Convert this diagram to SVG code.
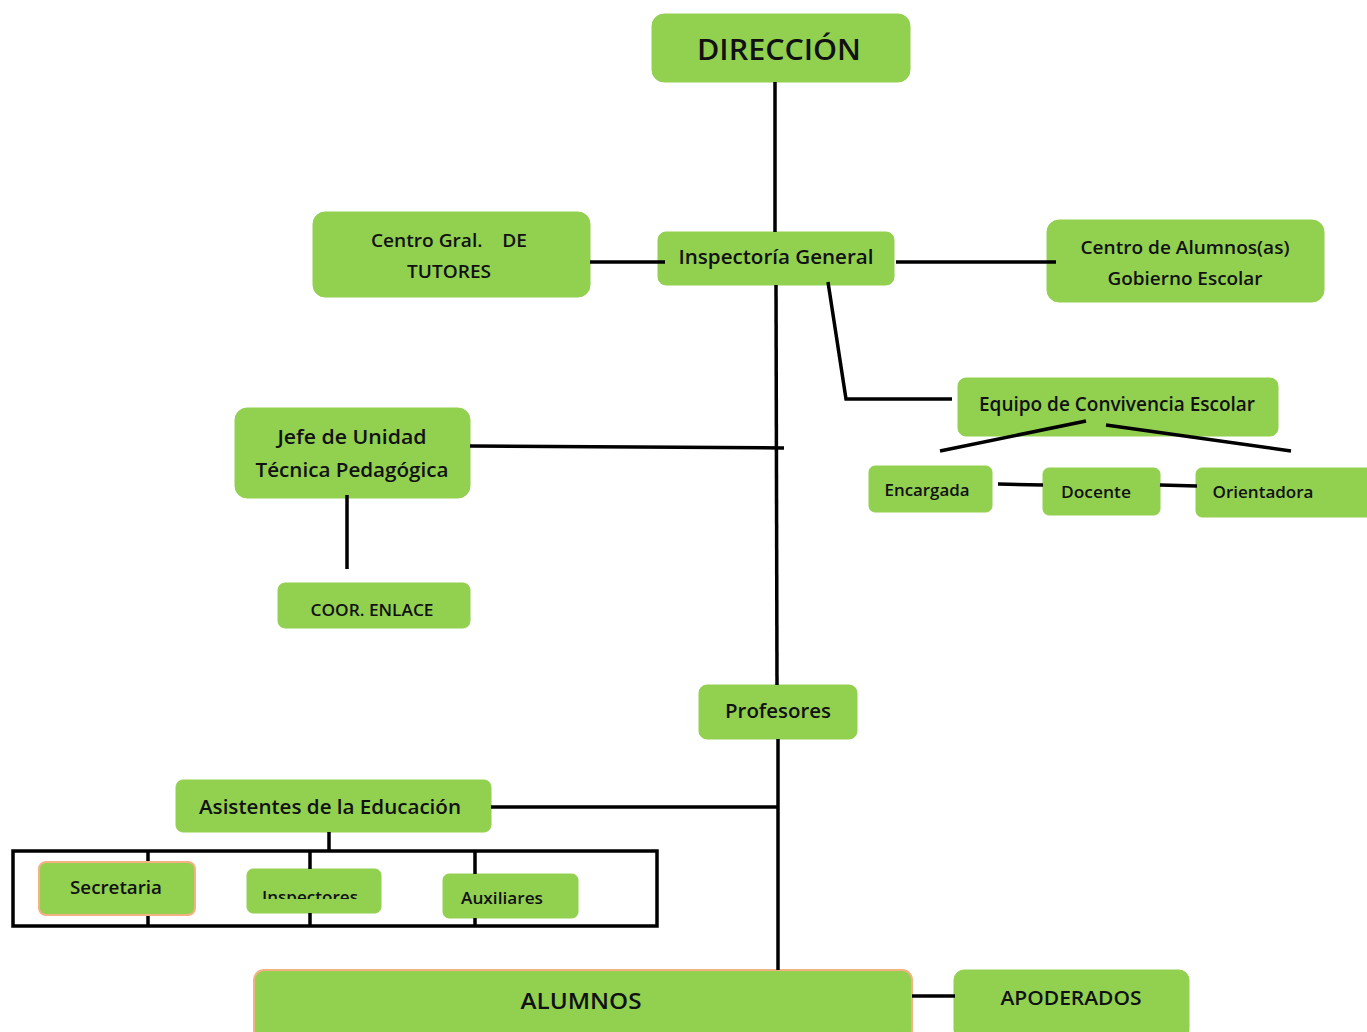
<svg xmlns="http://www.w3.org/2000/svg" width="1367" height="1032" viewBox="0 0 1367 1032">
<style>
.n{fill:#92D050;stroke:#92D050;stroke-width:1}
.s{fill:#92D050;stroke:#F4B183;stroke-width:2}
.t{font-family:"Open Sans","Liberation Sans",sans-serif;font-weight:600;fill:#111;text-anchor:middle}
.c{stroke:#000;stroke-width:3.5;fill:none}
</style>
<defs>
<clipPath id="clipInsp"><rect x="240" y="860" width="150" height="39"/></clipPath>
</defs>
<rect width="1367" height="1032" fill="#fff"/>
<g id="direccion">
<rect class="n" x="652" y="14" width="258" height="68" rx="12"/>
<text class="t" x="779" y="60" font-size="28" font-weight="700" textLength="164" lengthAdjust="spacingAndGlyphs">DIRECCIÓN</text>
</g>
<g id="inspectoria">
<rect class="n" x="658" y="232" width="236" height="53" rx="8"/>
<text class="t" x="776" y="264" font-size="20" textLength="195" lengthAdjust="spacingAndGlyphs">Inspectoría General</text>
</g>
<g id="centro-tutores">
<rect class="n" x="313" y="212" width="277" height="85" rx="12"/>
<text class="t" x="449" y="247" font-size="18" textLength="156" lengthAdjust="spacingAndGlyphs" xml:space="preserve">Centro Gral.    DE</text>
<text class="t" x="449" y="278" font-size="18" textLength="84" lengthAdjust="spacingAndGlyphs">TUTORES</text>
</g>
<g id="centro-alumnos">
<rect class="n" x="1047" y="220" width="277" height="82" rx="12"/>
<text class="t" x="1185" y="254" font-size="18" textLength="209" lengthAdjust="spacingAndGlyphs">Centro de Alumnos(as)</text>
<text class="t" x="1185" y="285" font-size="18" textLength="155" lengthAdjust="spacingAndGlyphs">Gobierno Escolar</text>
</g>
<g id="equipo">
<rect class="n" x="958" y="378" width="320" height="58" rx="8"/>
<text class="t" x="1117" y="411" font-size="19" textLength="276" lengthAdjust="spacingAndGlyphs">Equipo de Convivencia Escolar</text>
</g>
<g id="encargada">
<rect class="n" x="869" y="466" width="123" height="46" rx="6"/>
<text class="t" x="927" y="496" font-size="16" textLength="85" lengthAdjust="spacingAndGlyphs">Encargada</text>
</g>
<g id="docente">
<rect class="n" x="1043" y="468" width="117" height="47" rx="6"/>
<text class="t" x="1096" y="498" font-size="16" textLength="70" lengthAdjust="spacingAndGlyphs">Docente</text>
</g>
<g id="orientadora">
<rect class="n" x="1196" y="468" width="180" height="49" rx="6"/>
<text class="t" x="1263" y="498" font-size="16" textLength="101" lengthAdjust="spacingAndGlyphs">Orientadora</text>
</g>
<g id="jefe-utp">
<rect class="n" x="235" y="408" width="235" height="90" rx="12"/>
<text class="t" x="352" y="444" font-size="20" textLength="149" lengthAdjust="spacingAndGlyphs">Jefe de Unidad</text>
<text class="t" x="352" y="477" font-size="20" textLength="193" lengthAdjust="spacingAndGlyphs">Técnica Pedagógica</text>
</g>
<g id="coor-enlace">
<rect class="n" x="278" y="583" width="192" height="45" rx="7"/>
<text class="t" x="372" y="616" font-size="16" textLength="123" lengthAdjust="spacingAndGlyphs">COOR. ENLACE</text>
</g>
<g id="profesores">
<rect class="n" x="699" y="685" width="158" height="54" rx="8"/>
<text class="t" x="778" y="718" font-size="20" textLength="106" lengthAdjust="spacingAndGlyphs">Profesores</text>
</g>
<g id="asistentes">
<rect class="n" x="176" y="780" width="315" height="52" rx="7"/>
<text class="t" x="330" y="814" font-size="20" textLength="262" lengthAdjust="spacingAndGlyphs">Asistentes de la Educación</text>
</g>
<g id="secretaria">
<rect class="s" x="39" y="862" width="156" height="53" rx="7"/>
<text class="t" x="116" y="894" font-size="18" textLength="92" lengthAdjust="spacingAndGlyphs">Secretaria</text>
</g>
<g id="inspectores">
<rect class="n" x="247" y="869" width="134" height="44" rx="6"/>
<text class="t" x="310" y="903" font-size="17" textLength="96" lengthAdjust="spacingAndGlyphs" clip-path="url(#clipInsp)">Inspectores</text>
</g>
<g id="auxiliares">
<rect class="n" x="443" y="874" width="135" height="44" rx="6"/>
<text class="t" x="502" y="904" font-size="17" textLength="82" lengthAdjust="spacingAndGlyphs">Auxiliares</text>
</g>
<g id="alumnos">
<rect class="s" x="254" y="970" width="658" height="70" rx="10"/>
<text class="t" x="581" y="1009" font-size="22" textLength="121" lengthAdjust="spacingAndGlyphs">ALUMNOS</text>
</g>
<g id="apoderados">
<rect class="n" x="954" y="970" width="235" height="70" rx="10"/>
<text class="t" x="1071" y="1005" font-size="20" textLength="141" lengthAdjust="spacingAndGlyphs">APODERADOS</text>
</g>
<g id="connectors">
<line class="c" x1="775" y1="82" x2="775" y2="232"/>
<line class="c" x1="776" y1="285" x2="777" y2="685"/>
<line class="c" x1="778" y1="739" x2="778" y2="970"/>
<line class="c" x1="590" y1="262" x2="665" y2="262"/>
<line class="c" x1="896" y1="262" x2="1056" y2="262"/>
<polyline class="c" points="828,282 846,399 952,399"/>
<line class="c" x1="940" y1="451" x2="1086" y2="421"/>
<line class="c" x1="1106" y1="425" x2="1291" y2="451"/>
<line class="c" x1="998" y1="484" x2="1043" y2="485"/>
<line class="c" x1="1160" y1="485" x2="1197" y2="486"/>
<line class="c" x1="470" y1="446" x2="784" y2="448"/>
<line class="c" x1="347" y1="495" x2="347" y2="569"/>
<line class="c" x1="491" y1="807" x2="778" y2="807"/>
<line class="c" x1="329" y1="832" x2="329" y2="850"/>
<rect class="c" x="13" y="851" width="644" height="75"/>
<line class="c" x1="148" y1="851" x2="148" y2="861"/>
<line class="c" x1="148" y1="916" x2="148" y2="926"/>
<line class="c" x1="310" y1="851" x2="310" y2="869"/>
<line class="c" x1="310" y1="913" x2="310" y2="926"/>
<line class="c" x1="475" y1="851" x2="475" y2="874"/>
<line class="c" x1="475" y1="918" x2="475" y2="926"/>
<line class="c" x1="912" y1="996" x2="955" y2="996"/>
</g>
</svg>
